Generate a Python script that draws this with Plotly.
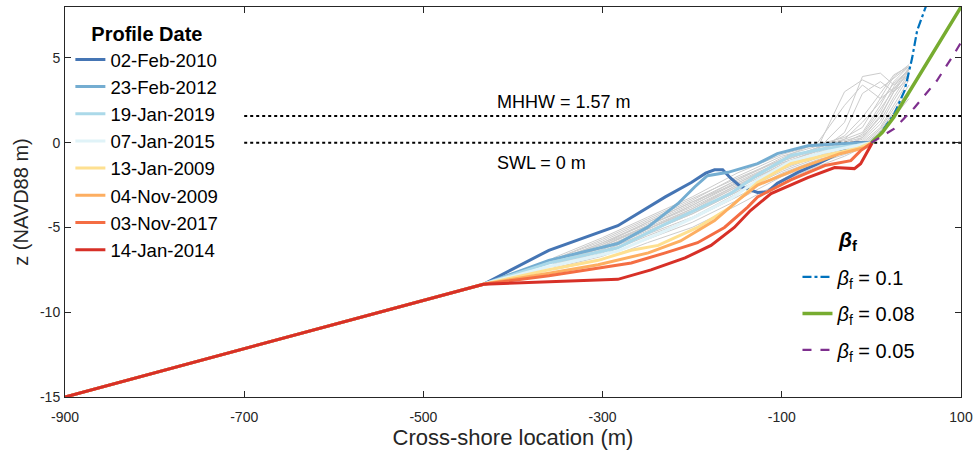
import plotly.graph_objects as go

# ---------------- data ----------------
profile_dates = ["02-Feb-2010", "23-Feb-2012", "19-Jan-2019", "07-Jan-2015",
                 "13-Jan-2009", "04-Nov-2009", "03-Nov-2017", "14-Jan-2014"]
profile_colors = ["#4575b4", "#74add1", "#abd9e9", "#e0f3f8",
                  "#fee090", "#fdae61", "#f46d43", "#d73027"]

x_2010 = [-900, -433, -360, -283, -230, -201, -185, -175, -166, -157, -146, -127, -116, -105, -82, -60, -41, -25, -19, -1]
z_2010 = [-15, -8.35, -6.35, -4.9, -3.2, -2.35, -1.8, -1.6, -1.6, -2.1, -2.6, -2.94, -2.9, -2.4, -1.75, -1.25, -0.76, -0.2, 0.0, 0.0]

x_2012 = [-900, -433, -360, -283, -250, -216, -197, -183, -160, -127, -105, -71, -35, -1]
z_2012 = [-15, -8.35, -6.94, -5.95, -5.0, -3.6, -2.6, -1.95, -1.75, -1.24, -0.65, -0.18, -0.06, 0.0]

x_2019 = [-900, -433, -360, -283, -230, -194, -157, -127, -90, -52, -16, 0]
z_2019 = [-15, -8.35, -7.1, -6.2, -4.8, -3.9, -3.0, -1.9, -0.76, -0.35, -0.15, 0.0]

x_2015 = [-900, -433, -360, -283, -230, -194, -157, -127, -90, -52, -16, 0]
z_2015 = [-15, -8.35, -7.3, -6.4, -5.2, -4.3, -3.3, -2.2, -1.1, -0.55, -0.2, 0.0]

x_2009a = [-900, -433, -360, -305, -268, -238, -194, -157, -127, -90, -52, -16, 0]
z_2009a = [-15, -8.35, -7.5, -6.94, -6.35, -6.06, -5.0, -3.8, -2.35, -1.24, -0.76, -0.35, 0.0]

x_2009b = [-900, -433, -360, -305, -249, -213, -175, -149, -127, -108, -79, -35, -8, 1]
z_2009b = [-15, -8.35, -7.7, -7.2, -6.5, -5.8, -4.6, -3.4, -2.5, -2.1, -1.47, -0.65, -0.3, 0.0]

x_2017 = [-900, -433, -360, -305, -268, -230, -194, -164, -138, -127, -90, -52, -23, -12, 1]
z_2017 = [-15, -8.35, -7.85, -7.4, -7.1, -6.5, -5.9, -5.0, -3.8, -3.2, -2.2, -1.35, -1.06, -0.47, 0.0]

x_2014 = [-900, -433, -283, -246, -208, -179, -153, -135, -112, -97, -71, -41, -19, -12, -4, 1]
z_2014 = [-15, -8.35, -8.06, -7.5, -6.8, -6.06, -5.0, -4.0, -3.0, -2.65, -2.06, -1.47, -1.53, -1.24, -0.47, 0.0]

profiles_x = [x_2010, x_2012, x_2019, x_2015, x_2009a, x_2009b, x_2017, x_2014]
profiles_z = [z_2010, z_2012, z_2019, z_2015, z_2009a, z_2009b, z_2017, z_2014]

# other surveyed profiles (grey)
grey_x = [-355, -300, -250, -200, -150, -100, -60, -30, -10, 10, 25, 42]
grey_z = [
    [-6.8, -5.6, -4.4, -3.2, -1.8, -0.7, -0.1, 0.3, 0.9, 2.6, 3.9, 4.6],
    [-6.9, -5.8, -4.6, -3.4, -2.0, -0.8, -0.2, 0.2, 0.6, 2.2, 3.6, 4.5],
    [-7.0, -5.9, -4.8, -3.6, -2.2, -1.0, -0.3, 0.1, 0.4, 1.8, 3.3, 4.4],
    [-7.0, -6.0, -4.9, -3.7, -2.3, -1.1, -0.4, 0.0, 0.3, 1.5, 3.0, 4.3],
    [-7.1, -6.1, -5.0, -3.9, -2.5, -1.2, -0.5, -0.1, 0.2, 1.3, 2.7, 4.1],
    [-7.1, -6.2, -5.1, -4.0, -2.6, -1.3, -0.6, -0.2, 0.1, 1.1, 2.5, 3.9],
    [-7.2, -6.3, -5.2, -4.1, -2.7, -1.4, -0.7, -0.3, 0.0, 0.9, 2.2, 3.7],
    [-7.2, -6.4, -5.3, -4.2, -2.9, -1.5, -0.8, -0.4, -0.1, 0.8, 2.0, 3.4],
    [-7.3, -6.5, -5.4, -4.4, -3.0, -1.7, -0.9, -0.5, -0.2, 0.7, 1.8, 3.1],
    [-7.3, -6.6, -5.5, -4.5, -3.2, -1.8, -1.0, -0.6, -0.2, 0.6, 1.6, 2.8],
    [-7.4, -6.7, -5.7, -4.7, -3.4, -2.0, -1.2, -0.7, -0.3, 0.5, 1.5, 2.6],
    [-7.5, -6.9, -5.9, -5.0, -3.7, -2.3, -1.4, -0.8, -0.3, 0.6, 1.7, 2.9],
    [-6.9, -5.7, -4.5, -3.3, -2.1, -1.0, -0.3, 0.4, 1.5, 2.9, 4.0, 4.5],
    [-7.0, -6.0, -4.7, -3.5, -2.4, -1.2, -0.5, 0.2, 1.2, 2.4, 3.5, 4.3],
    [-7.1, -6.1, -4.9, -3.8, -2.5, -1.4, -0.6, 0.0, 0.5, 2.0, 3.2, 4.4],
    [-7.2, -6.2, -5.1, -4.0, -2.8, -1.6, -0.8, -0.2, 0.3, 1.6, 3.0, 4.2],
    [-7.1, -6.1, -4.9, -3.7, -2.4, -1.1, -0.3, 3.0, 3.7, 3.2, 3.8, 4.5],
    [-7.2, -6.3, -5.1, -3.9, -2.6, -1.3, -0.4, 1.2, 3.9, 4.1, 3.4, 4.3],
    [-7.0, -5.9, -4.7, -3.5, -2.2, -0.9, 0.0, 2.2, 3.4, 2.6, 3.2, 4.0],
    [-7.3, -6.4, -5.3, -4.2, -2.9, -1.5, -0.6, 0.6, 2.9, 3.6, 3.0, 3.8],
]

beta_labels = ["0.1", "0.08", "0.05"]
beta_colors = ["#0072BD", "#77AC30", "#7E2F8E"]
beta_dash = ["dashdot", "solid", "dash"]
beta_widths = [2.2, 3.5, 2.2]
bx_01 = [0, 10, 25.5, 37, 45.5, 51, 61]
bz_01 = [0, 0.53, 1.7, 3.06, 5.0, 6.6, 8.06]
bx_008 = [0, 12, 25, 100]
bz_008 = [0, 0.6, 1.5, 8.0]
bx_005 = [0, 25.5, 48, 73, 92, 101]
bz_005 = [0, 0.82, 2.06, 3.65, 5.2, 6.0]
beta_x = [bx_01, bx_008, bx_005]
beta_z = [bz_01, bz_008, bz_005]

mhhw = 1.57
swl = 0.0
level_x = [-700, 100]

x_ticks = [-900, -700, -500, -300, -100, 100]
x_ticktext = ["-900", "-700", "-500", "-300", "-100", "100"]
y_ticks = [-15, -10, -5, 0, 5]
y_ticktext = ["-15", "-10", "-5", "0", "5"]

# ---------------- figure ----------------
fig = go.Figure()

for gz in grey_z:
    fig.add_trace(go.Scatter(x=grey_x, y=gz, mode="lines",
                             line=dict(color="#cccccc", width=1),
                             showlegend=False, hoverinfo="skip"))

fig.add_trace(go.Scatter(x=level_x, y=[mhhw, mhhw], mode="lines",
                         line=dict(color="black", width=2, dash="dot"), showlegend=False))
fig.add_trace(go.Scatter(x=level_x, y=[swl, swl], mode="lines",
                         line=dict(color="black", width=2, dash="dot"), showlegend=False))

for i, (px, pz) in enumerate(zip(profiles_x, profiles_z)):
    fig.add_trace(go.Scatter(x=px, y=pz, mode="lines", name=profile_dates[i],
                             line=dict(color=profile_colors[i], width=3),
                             legend="legend", legendgroup="g%d" % i))

for i in range(3):
    fig.add_trace(go.Scatter(x=beta_x[i], y=beta_z[i], mode="lines",
                             name="<i>β</i><sub>f</sub> = " + beta_labels[i],
                             line=dict(color=beta_colors[i], width=beta_widths[i], dash=beta_dash[i]),
                             legend="legend2", legendgroup="b%d" % i))

fig.add_annotation(x=-420, y=2.4, text="MHHW = 1.57 m", showarrow=False,
                   xanchor="left", yanchor="middle", font=dict(size=18, color="black"))
fig.add_annotation(x=-420, y=-1.2, text="SWL = 0 m", showarrow=False,
                   xanchor="left", yanchor="middle", font=dict(size=18, color="black"))
# title of the beta_f legend
fig.add_annotation(x=0.873, y=0.401, xref="paper", yref="paper",
                   text="<b><i>β</i><sub>f</sub></b>", showarrow=False,
                   xanchor="center", yanchor="middle", font=dict(size=21, color="black"))

axis_color = "#262626"
fig.update_layout(
    width=979, height=451,
    margin=dict(l=65, r=15, t=6, b=54),
    plot_bgcolor="white", paper_bgcolor="white",
    font=dict(family="Liberation Sans, Arial, sans-serif", color="black"),
    xaxis=dict(range=[-900, 100], tickvals=x_ticks, ticktext=x_ticktext,
               showgrid=False, zeroline=False, showline=True, linecolor=axis_color,
               linewidth=1, mirror="ticks", ticks="inside", ticklen=6, tickcolor=axis_color,
               tickfont=dict(size=14, color=axis_color), ticklabelstandoff=7,
               title=dict(text="Cross-shore location (m)", font=dict(size=22, color=axis_color), standoff=4)),
    yaxis=dict(range=[-15, 8], tickvals=y_ticks, ticktext=y_ticktext,
               showgrid=False, zeroline=False, showline=True, linecolor=axis_color,
               linewidth=1, mirror="ticks", ticks="inside", ticklen=6, tickcolor=axis_color,
               tickfont=dict(size=14, color=axis_color), ticklabelstandoff=1,
               title=dict(text="z (NAVD88 m)", font=dict(size=20, color=axis_color), standoff=5)),
    legend=dict(x=0.006, y=0.98, xanchor="left", yanchor="top",
                bgcolor="rgba(255,255,255,0)", borderwidth=0,
                font=dict(size=18.6, color="black"), itemwidth=30,
                tracegroupgap=0,
                title=dict(text="<b>Profile Date</b>", side="top center", font=dict(size=20))),
    legend2=dict(x=0.8175, y=0.358, xanchor="left", yanchor="top",
                 bgcolor="rgba(255,255,255,0)", borderwidth=0,
                 font=dict(size=20, color="black"), itemwidth=30,
                 tracegroupgap=7.5),
    showlegend=True,
)

fig.write_html("out.html", config={"displayModeBar": False},
               post_script="document.body.style.margin='0';document.body.style.overflow='hidden';")
